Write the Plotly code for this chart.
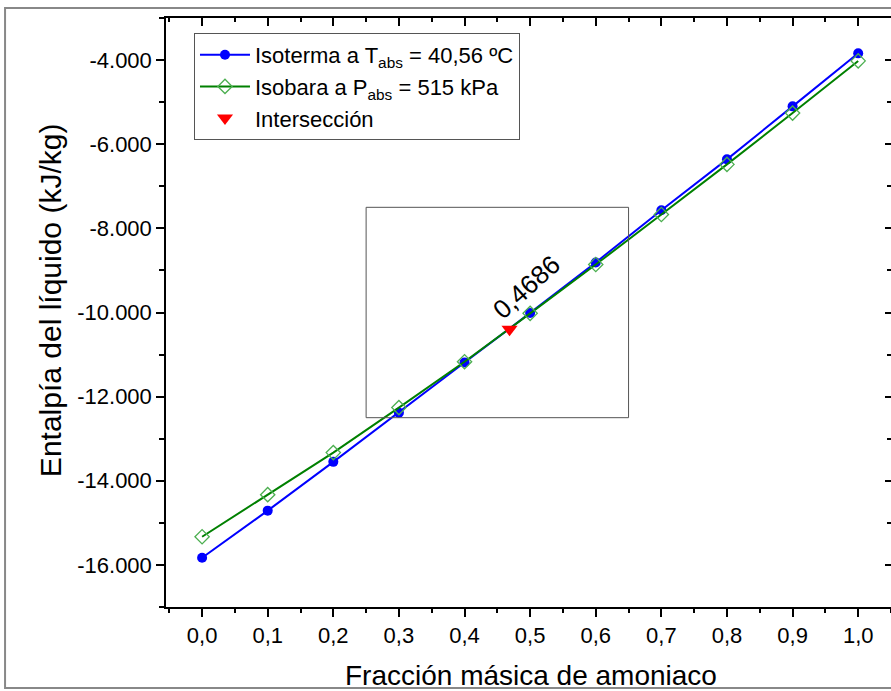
import plotly.graph_objects as go

# ---- data ----
fraccion = [0.0, 0.1, 0.2, 0.3, 0.4, 0.5, 0.6, 0.7, 0.8, 0.9, 1.0]
isoterma = [-15830, -14710, -13550, -12380, -11190, -10010, -8810, -7570, -6360, -5100, -3840]
isobara = [-15330, -14330, -13330, -12260, -11170, -10020, -8860, -7670, -6480, -5260, -4020]
inter_x = [0.4686]
inter_y = [-10400]
inter_label = "0,4686"

x_tickvals = [0.0, 0.1, 0.2, 0.3, 0.4, 0.5, 0.6, 0.7, 0.8, 0.9, 1.0]
x_ticktext = ["0,0", "0,1", "0,2", "0,3", "0,4", "0,5", "0,6", "0,7", "0,8", "0,9", "1,0"]
y_tickvals = [-16000, -14000, -12000, -10000, -8000, -6000, -4000]
y_ticktext = ["-16.000", "-14.000", "-12.000", "-10.000", "-8.000", "-6.000", "-4.000"]

x_title = "Fracción másica de amoniaco"
y_title = "Entalpía del líquido (kJ/kg)"

zoom_box = dict(x0=0.25, x1=0.65, y0=-12500, y1=-7500)

FONT = "Liberation Sans, Arial, sans-serif"

fig = go.Figure()
fig.add_trace(go.Scatter(
    x=fraccion, y=isoterma, mode="lines+markers",
    name="Isoterma a T<sub>abs</sub> = 40,56 ºC",
    line=dict(color="#0000ff", width=2),
    marker=dict(symbol="circle", size=10, color="#0000ff"),
))
fig.add_trace(go.Scatter(
    x=fraccion, y=isobara, mode="lines+markers",
    name="Isobara a P<sub>abs</sub> = 515 kPa",
    line=dict(color="#008000", width=2),
    marker=dict(symbol="diamond-open", size=11, color="#4caf50", line=dict(width=1.3)),
))
fig.add_trace(go.Scatter(
    x=inter_x, y=inter_y, mode="markers", name="Intersección",
    marker=dict(symbol="triangle-down", size=14, color="#ff0000"),
))
# invisible trace for mirrored axes
fig.add_trace(go.Scatter(x=inter_x, y=inter_y, xaxis="x2", yaxis="y2",
                         mode="markers", marker=dict(opacity=0), showlegend=False,
                         hoverinfo="skip"))

xr = [-0.055, 1.05]
yr = [-17000, -3000]

fig.update_layout(
    width=891, height=691,
    margin=dict(l=166, r=0, t=18, b=84),
    paper_bgcolor="white", plot_bgcolor="white",
    font=dict(family=FONT, color="black"),
    showlegend=True,
    legend=dict(
        x=0.0386, y=0.9745, xanchor="left", yanchor="top",
        bordercolor="#555555", borderwidth=1, bgcolor="white",
        font=dict(size=22, family=FONT), tracegroupgap=0,
        itemwidth=50,
    ),
    xaxis=dict(
        range=xr, tickvals=x_tickvals, ticktext=x_ticktext,
        ticks="outside", ticklen=8, tickwidth=1.5, tickcolor="black",
        minor=dict(ticks="outside", ticklen=4, tickwidth=1.5, dtick=0.05, tick0=0, tickcolor="black"),
        showline=True, linecolor="black", linewidth=1.5,
        showgrid=False, zeroline=False,
        tickfont=dict(size=22, family=FONT),
    ),
    yaxis=dict(
        range=yr, tickvals=y_tickvals, ticktext=y_ticktext,
        ticks="outside", ticklen=8, tickwidth=1.5, tickcolor="black",
        minor=dict(ticks="outside", ticklen=5, tickwidth=1.5, dtick=1000, tick0=0, tickcolor="black"),
        showline=True, linecolor="black", linewidth=1.5,
        showgrid=False, zeroline=False,
        tickfont=dict(size=22, family=FONT),
    ),
    xaxis2=dict(
        overlaying="x", side="top", range=xr, tickvals=x_tickvals,
        showticklabels=False, ticks="inside", ticklen=8, tickwidth=1.5, tickcolor="black",
        minor=dict(ticks="inside", ticklen=4, tickwidth=1.5, dtick=0.05, tick0=0, tickcolor="black"),
        showline=True, linecolor="black", linewidth=1.5, showgrid=False, zeroline=False,
    ),
    yaxis2=dict(
        overlaying="y", side="right", range=yr, tickvals=y_tickvals,
        showticklabels=False, ticks="inside", ticklen=6, tickwidth=1.5, tickcolor="black",
        minor=dict(ticks="inside", ticklen=4, tickwidth=1.5, dtick=1000, tick0=0, tickcolor="black"),
        showline=False, showgrid=False, zeroline=False,
    ),
)

fig.add_shape(type="rect", xref="x", yref="y", line=dict(color="#555555", width=1),
              **zoom_box)
# outer frame
fig.add_shape(type="rect", xref="paper", yref="paper", x0=-0.222, x1=1.01, y0=-0.1375, y1=1.017,
              line=dict(color="#888888", width=2), layer="below")

# axis titles
fig.add_annotation(x=0.5034, y=-0.117, xref="paper", yref="paper", text=x_title,
                   showarrow=False, xanchor="center", yanchor="middle",
                   font=dict(size=28, family=FONT, color="black"))
fig.add_annotation(x=-0.16, y=0.521, xref="paper", yref="paper", text=y_title,
                   showarrow=False, xanchor="center", yanchor="middle", textangle=-90,
                   font=dict(size=30, family=FONT, color="black"))

fig.add_annotation(x=inter_x[0], y=inter_y[0], xref="x", yref="y", text=inter_label,
                   showarrow=False, textangle=-42, xshift=17, yshift=42,
                   font=dict(size=26, family=FONT, color="black"))

fig.write_html("out.html")
